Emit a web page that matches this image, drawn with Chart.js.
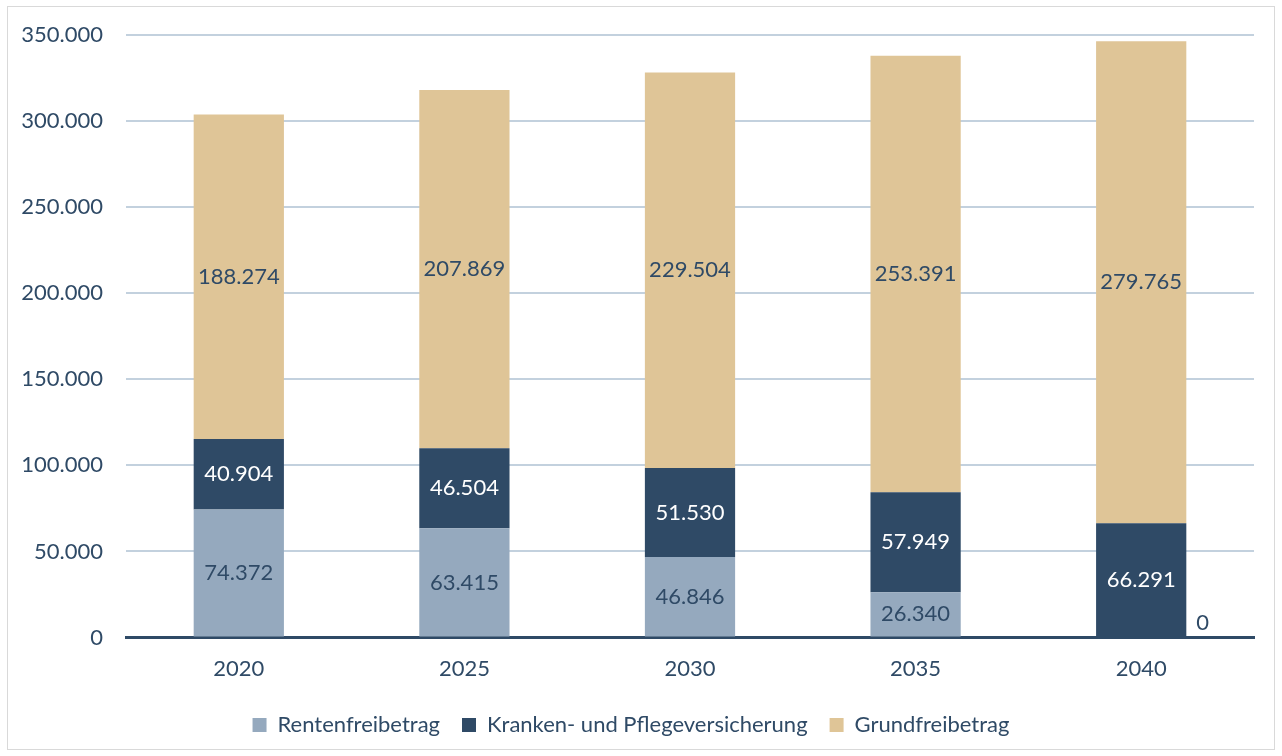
<!DOCTYPE html>
<html>
<head>
<meta charset="utf-8">
<script src="https://cdn.jsdelivr.net/npm/chart.js@4"></script>
<style>
  body { margin: 0; background: #fff; }
  #box {
    position: absolute; left: 7px; top: 6px;
    width: 1266px; height: 742px;
    border: 1.5px solid #D9D9D9;
  }
</style>
</head>
<body>
<div id="box"><canvas id="myChart"></canvas></div>
<script>
const years = ['2020', '2025', '2030', '2035', '2040'];
const rente = [74372, 63415, 46846, 26340, 0];
const kranken = [40904, 46504, 51530, 57949, 66291];
const grund = [188274, 207869, 229504, 253391, 279765];

const navy = '#2F4A66';
const fmt = v => v.toLocaleString('de-DE');

const valueLabels = {
  id: 'valueLabels',
  afterDatasetsDraw(chart) {
    const ctx = chart.ctx;
    ctx.save();
    ctx.font = '22px Lato';
    ctx.textBaseline = 'middle';
    chart.data.datasets.forEach((ds, i) => {
      const meta = chart.getDatasetMeta(i);
      meta.data.forEach((bar, j) => {
        const v = ds.data[j];
        ctx.fillStyle = ds.labelColor;
        if (v === 0) {
          // Excel puts the zero label beside the empty segment
          ctx.textAlign = 'left';
          ctx.fillStyle = navy;
          ctx.fillText(fmt(v), bar.x + bar.width / 2 + 10, bar.y - 15);
        } else {
          ctx.textAlign = 'center';
          ctx.fillText(fmt(v), bar.x, (bar.y + bar.base) / 2);
        }
      });
    });
    ctx.restore();
  }
};

const ctx = document.getElementById('myChart');
const chart = new Chart(ctx, {
  type: 'bar',
  data: {
    labels: years,
    datasets: [
      { label: 'Rentenfreibetrag', data: rente, backgroundColor: '#95A9BE', labelColor: navy },
      { label: 'Kranken- und Pflegeversicherung', data: kranken, backgroundColor: navy, labelColor: '#FFFFFF' },
      { label: 'Grundfreibetrag', data: grund, backgroundColor: '#DFC597', labelColor: navy }
    ]
  },
  options: {
    responsive: true,
    maintainAspectRatio: false,
    animation: false,
    categoryPercentage: 1,
    barPercentage: 0.4,
    layout: { padding: { top: 27.5, right: 20, bottom: 3, left: 0 } },
    scales: {
      x: {
        stacked: true,
        grid: { display: false },
        border: { color: navy, width: 3 },
        ticks: { color: navy, font: { family: 'Lato', size: 22 }, padding: 10 }
      },
      y: {
        stacked: true,
        min: 0, max: 350000,
        afterFit(scale) { scale.width = 118; },
        border: { display: false },
        // invisible tick marks give the gap between labels and plot
        grid: { color: '#C3D1DE', lineWidth: 2, drawTicks: true, tickLength: 23, tickColor: 'rgba(0,0,0,0)' },
        ticks: {
          stepSize: 50000, color: navy, padding: 0,
          font: { family: 'Lato', size: 22 },
          callback: v => fmt(v)
        }
      }
    },
    plugins: {
      tooltip: { enabled: false },
      legend: {
        position: 'bottom',
        labels: {
          color: navy, boxWidth: 14, boxHeight: 14, padding: 22,
          font: { family: 'Lato', size: 22 }
        }
      }
    }
  },
  plugins: [valueLabels]
});
</script>
</body>
</html>
